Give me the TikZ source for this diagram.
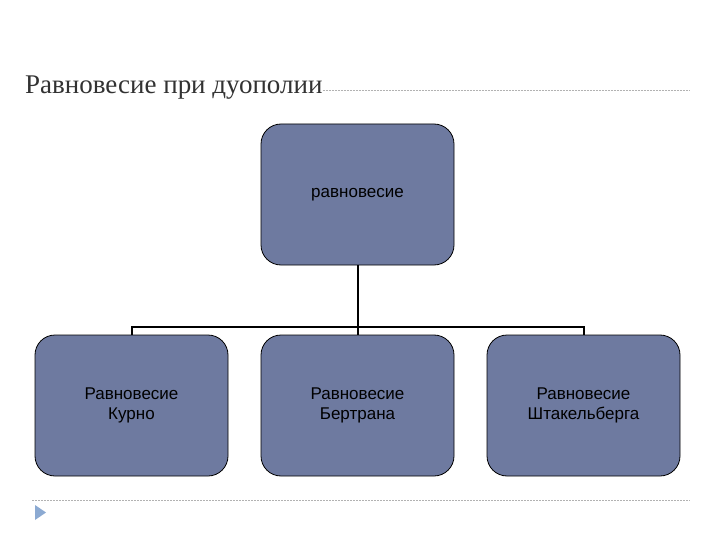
\documentclass[tikz,border=0pt]{standalone}
\usepackage{fontspec}
\setmainfont{Liberation Sans}
\newfontfamily\titlefont{Liberation Serif}
\definecolor{boxfill}{RGB}{110,122,160}
\definecolor{tri}{RGB}{140,170,210}
\definecolor{ttl}{RGB}{50,50,50}
\begin{document}
\begin{tikzpicture}[x=1pt,y=-1pt,
  bx/.style={draw=black,line width=0.8pt,fill=boxfill,rounded corners=20pt,minimum width=193pt,minimum height=141pt,inner sep=0pt,align=center,font=\fontsize{17}{20}\selectfont},
  conn/.style={line width=2pt}]
\useasboundingbox (0,0) rectangle (720,540);
\node[anchor=west,font=\titlefont\fontsize{27}{30}\selectfont,text=ttl,inner sep=0pt] (t) at (25,88) {Равновесие при дуополии};
\draw[gray!60,line width=0.5pt,dash pattern=on 2pt off 1pt] (t.east) ++(0,2) coordinate (d1) -- (690,90);
\draw[gray!60,line width=0.5pt,dash pattern=on 2pt off 1pt] (32,500) coordinate (d2) -- (690,500);
\fill[tri] (35,505) -- (46,512.5) -- (35,520) -- cycle;
\node[bx] (top) at (357.5,194.5) {равновесие};
\node[bx] (a) at (131.5,405.5) {Равновесие\\Курно};
\node[bx] (b) at (357.5,405.5) {Равновесие\\Бертрана};
\node[bx] (c) at (583.5,405.5) {Равновесие\\Штакельберга};
\coordinate (bus) at (357.5,327);
\draw[conn] (top.south) -- (bus);
\draw[conn] (a.north) -- (a.north |- bus) -- (c.north |- bus) -- (c.north);
\draw[conn] (bus) -- (b.north);
\end{tikzpicture}
\end{document}
